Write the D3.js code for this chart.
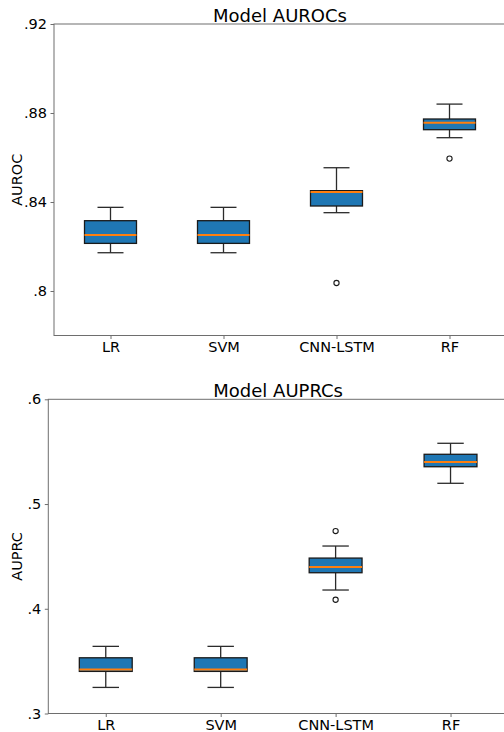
<!DOCTYPE html>
<html>
<head>
<meta charset="utf-8">
<script src="https://cdn.jsdelivr.net/npm/d3@7"></script>
<style>
  body { margin: 0; background: #fff; }
  text { font-family: "DejaVu Sans", sans-serif; fill: #000; }
</style>
</head>
<body>
<svg id="chart"></svg>
<script>
let models = ["LR", "SVM", "CNN-LSTM", "RF"]

// AUROC box stats per model
let aurocLow = [0.8172, 0.8172, 0.8352, 0.8689]
let aurocQ1 = [0.8214, 0.8214, 0.8382, 0.8725]
let aurocMed = [0.8252, 0.8252, 0.8445, 0.8756]
let aurocQ3 = [0.8316, 0.8316, 0.8451, 0.8773]
let aurocHigh = [0.8376, 0.8376, 0.8554, 0.8840]
let aurocOut = [[], [], [0.8036], [0.8595]]
let aurocTicks = [0.8, 0.84, 0.88, 0.92]

// AUPRC box stats per model
let auprcLow = [0.3249, 0.3249, 0.4179, 0.5198]
let auprcQ1 = [0.3402, 0.3402, 0.4344, 0.5356]
let auprcMed = [0.3421, 0.3421, 0.4398, 0.5401]
let auprcQ3 = [0.3532, 0.3532, 0.4484, 0.5475]
let auprcHigh = [0.3641, 0.3641, 0.4599, 0.5580]
let auprcOut = [[], [], [0.4742, 0.4086], []]
let auprcTicks = [0.3, 0.4, 0.5, 0.6]

let width = 504
let height = 732

let svg = d3.select("#chart")
    .attr("width", width)
    .attr("height", height)

// strips the leading zero like ".84"
let fmt = (v) => {
    let s = d3.format(".2~f")(v)
    return s.replace(/^0\./, ".")
}

let drawPanel = (opts) => {
    let g = svg.append("g")

    let xScale = d3.scalePoint()
        .domain(models)
        .range([opts.left, opts.right])
        .padding(0.5)

    let yScale = d3.scaleLinear()
        .domain(opts.domain)
        .range([opts.bottom, opts.top])

    let step = xScale.step()
    let boxW = step * 0.46
    let capW = boxW / 2

    let rows = models.map((m, i) => {
        return {
            name: m,
            low: opts.low[i],
            q1: opts.q1[i],
            med: opts.med[i],
            q3: opts.q3[i],
            high: opts.high[i],
            out: opts.out[i]
        }
    })

    let box = g.selectAll(".box")
        .data(rows)
        .enter()
        .append("g")
        .attr("class", "box")

    // whiskers
    box.append("line")
        .attr("x1", d => xScale(d.name))
        .attr("x2", d => xScale(d.name))
        .attr("y1", d => yScale(d.high))
        .attr("y2", d => yScale(d.q3))
        .attr("stroke", "#2b2b2b")
        .attr("stroke-width", 1.3)
    box.append("line")
        .attr("x1", d => xScale(d.name))
        .attr("x2", d => xScale(d.name))
        .attr("y1", d => yScale(d.q1))
        .attr("y2", d => yScale(d.low))
        .attr("stroke", "#2b2b2b")
        .attr("stroke-width", 1.3)

    // caps
    box.append("line")
        .attr("x1", d => xScale(d.name) - capW / 2)
        .attr("x2", d => xScale(d.name) + capW / 2)
        .attr("y1", d => yScale(d.high))
        .attr("y2", d => yScale(d.high))
        .attr("stroke", "#2b2b2b")
        .attr("stroke-width", 1.3)
    box.append("line")
        .attr("x1", d => xScale(d.name) - capW / 2)
        .attr("x2", d => xScale(d.name) + capW / 2)
        .attr("y1", d => yScale(d.low))
        .attr("y2", d => yScale(d.low))
        .attr("stroke", "#2b2b2b")
        .attr("stroke-width", 1.3)

    // box body
    box.append("rect")
        .attr("x", d => xScale(d.name) - boxW / 2)
        .attr("width", boxW)
        .attr("y", d => yScale(d.q3))
        .attr("height", d => yScale(d.q1) - yScale(d.q3))
        .attr("fill", "#1f77b4")
        .attr("stroke", "#1a1a1a")
        .attr("stroke-width", 1.3)

    // median
    box.append("line")
        .attr("x1", d => xScale(d.name) - boxW / 2)
        .attr("x2", d => xScale(d.name) + boxW / 2)
        .attr("y1", d => yScale(d.med))
        .attr("y2", d => yScale(d.med))
        .attr("stroke", "#ff7f0e")
        .attr("stroke-width", 2)

    // fliers
    box.selectAll("circle")
        .data(d => d.out.map(v => ({ name: d.name, v: v })))
        .enter()
        .append("circle")
        .attr("cx", d => xScale(d.name))
        .attr("cy", d => yScale(d.v))
        .attr("r", 2.6)
        .attr("fill", "none")
        .attr("stroke", "#1a1a1a")
        .attr("stroke-width", 1.1)

    // axes
    let yAxis = d3.axisLeft(yScale)
        .tickValues(opts.ticks)
        .tickFormat(fmt)
        .tickSize(3.5)
        .tickPadding(3.5)
    let xAxis = d3.axisBottom(xScale)
        .tickSize(3.5)
        .tickPadding(3)

    let ya = g.append("g")
        .attr("transform", "translate(" + opts.left + ",0)")
        .call(yAxis)
    let xa = g.append("g")
        .attr("transform", "translate(0," + opts.bottom + ")")
        .call(xAxis)

    ;[ya, xa].forEach(a => {
        a.select(".domain").remove()
        a.selectAll(".tick line").attr("stroke", "#6e6e6e").attr("stroke-width", 1)
        a.selectAll(".tick text")
            .style("font-family", "DejaVu Sans, sans-serif")
            .style("font-size", "14.5px")
            .attr("fill", "#000")
    })

    // spines
    g.append("rect")
        .attr("x", opts.left)
        .attr("y", opts.top)
        .attr("width", opts.right - opts.left)
        .attr("height", opts.bottom - opts.top)
        .attr("fill", "none")
        .attr("stroke", "#6e6e6e")
        .attr("stroke-width", 1)

    // title
    g.append("text")
        .attr("x", (opts.left + opts.right) / 2)
        .attr("y", opts.top - 2.5)
        .attr("text-anchor", "middle")
        .style("font-size", "18px")
        .text(opts.title)

    // y label
    g.append("text")
        .attr("transform", "translate(22," + (opts.top + opts.bottom) / 2 + ") rotate(-90)")
        .attr("text-anchor", "middle")
        .style("font-size", "14.5px")
        .text(opts.ylabel)
}

drawPanel({
    title: "Model AUROCs",
    ylabel: "AUROC",
    left: 54, right: 506, top: 24, bottom: 335.5,
    domain: [0.78, 0.92],
    ticks: aurocTicks,
    low: aurocLow, q1: aurocQ1, med: aurocMed, q3: aurocQ3, high: aurocHigh, out: aurocOut
})

drawPanel({
    title: "Model AUPRCs",
    ylabel: "AUPRC",
    left: 48.3, right: 508, top: 399.3, bottom: 713.5,
    domain: [0.3, 0.6],
    ticks: auprcTicks,
    low: auprcLow, q1: auprcQ1, med: auprcMed, q3: auprcQ3, high: auprcHigh, out: auprcOut
})
</script>
</body>
</html>
